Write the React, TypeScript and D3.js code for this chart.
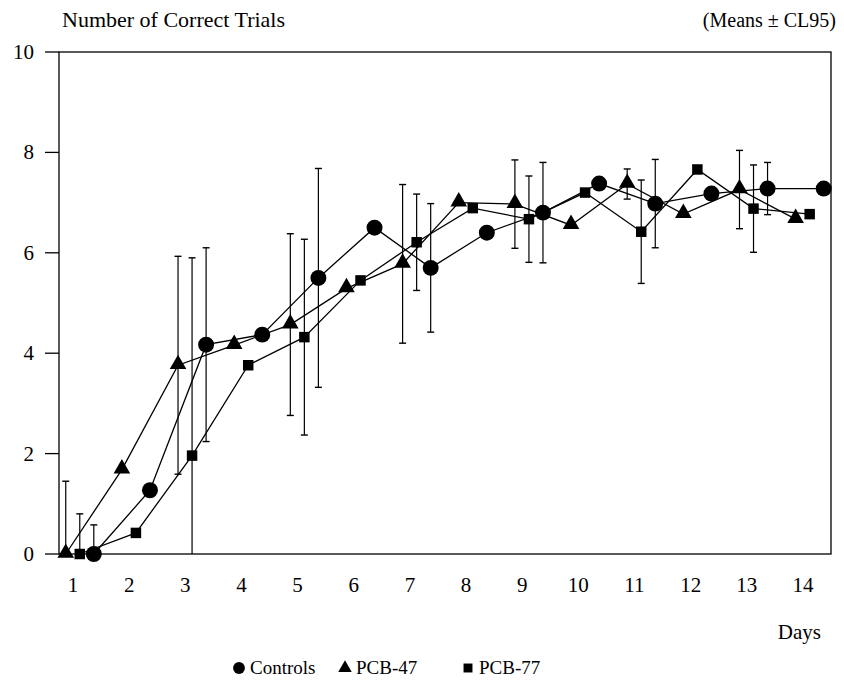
import React, { useEffect, useRef } from 'react';
import * as d3 from 'd3';

// Days 1..14
const days = [1, 2, 3, 4, 5, 6, 7, 8, 9, 10, 11, 12, 13, 14];

// Means
const controlsMean = [0, 1.27, 4.17, 4.37, 5.5, 6.5, 5.7, 6.4, 6.8, 7.38, 6.98, 7.18, 7.28, 7.28];
const pcb47Mean = [0, 1.68, 3.76, 4.16, 4.57, 5.29, 5.78, 7.0, 6.97, 6.55, 7.37, 6.77, 7.26, 6.67];
const pcb77Mean = [0, 0.42, 1.96, 3.76, 4.32, 5.45, 6.21, 6.89, 6.67, 7.2, 6.42, 7.66, 6.88, 6.77];

// CL95 half widths (null = no bar drawn)
const controlsCI = [0.58, null, 1.93, null, 2.18, null, 1.28, null, 1.0, null, 0.88, null, 0.52, null];
const pcb47CI = [1.45, null, 2.17, null, 1.81, null, 1.58, null, 0.88, null, 0.3, null, 0.78, null];
const pcb77CI = [0.8, null, 3.94, null, 1.95, null, 0.96, null, 0.86, null, 1.03, null, 0.87, null];

const yTicks = [0, 2, 4, 6, 8, 10];

type Shape = 'circle' | 'triangle' | 'square';
interface Series {
  name: string;
  shape: Shape;
  offset: number;
  mean: number[];
  ci: (number | null)[];
}

const series: Series[] = [
  { name: 'PCB-47', shape: 'triangle', offset: -0.13, mean: pcb47Mean, ci: pcb47CI },
  { name: 'PCB-77', shape: 'square', offset: 0.12, mean: pcb77Mean, ci: pcb77CI },
  { name: 'Controls', shape: 'circle', offset: 0.37, mean: controlsMean, ci: controlsCI },
];

const FONT = '"Liberation Serif", "Times New Roman", Times, serif';

const markerPath = (shape: Shape, size: number) => {
  if (shape === 'circle') return d3.symbol(d3.symbolCircle, size)();
  if (shape === 'triangle') return d3.symbol(d3.symbolTriangle, size)();
  return d3.symbol(d3.symbolSquare, size)();
};

const markerSize: Record<Shape, number> = { circle: 200, triangle: 120, square: 110 };

const App: React.FC = () => {
  const svgRef = useRef<SVGSVGElement>(null);

  useEffect(() => {
    if (!svgRef.current) return;
    const svg = d3.select(svgRef.current);
    svg.selectAll('*').remove();

    const left = 59;
    const right = 831;
    const top = 52;
    const bottom = 554;

    const x = d3.scaleLinear().domain([0.75, 14.5]).range([left, right]);
    const y = d3.scaleLinear().domain([0, 10]).range([bottom, top]);

    // Frame
    svg
      .append('rect')
      .attr('x', left)
      .attr('y', top)
      .attr('width', right - left)
      .attr('height', bottom - top)
      .attr('fill', 'none')
      .attr('stroke', '#000')
      .attr('stroke-width', 1.3);

    // Y axis ticks + labels
    const yAxis = svg.append('g');
    yAxis
      .selectAll('line')
      .data(yTicks)
      .enter()
      .append('line')
      .attr('x1', left - 14)
      .attr('x2', left)
      .attr('y1', (d) => y(d))
      .attr('y2', (d) => y(d))
      .attr('stroke', '#000')
      .attr('stroke-width', 1.3);
    yAxis
      .selectAll('text')
      .data(yTicks)
      .enter()
      .append('text')
      .attr('x', 34)
      .attr('y', (d) => y(d) + 7)
      .attr('text-anchor', 'end')
      .attr('font-family', FONT)
      .attr('font-size', 21)
      .text((d) => d);

    // X labels (no tick marks)
    svg
      .append('g')
      .selectAll('text')
      .data(days)
      .enter()
      .append('text')
      .attr('x', (d) => x(d))
      .attr('y', 592)
      .attr('text-anchor', 'middle')
      .attr('font-family', FONT)
      .attr('font-size', 21)
      .text((d) => d);

    svg
      .append('text')
      .attr('x', 821)
      .attr('y', 639)
      .attr('text-anchor', 'end')
      .attr('font-family', FONT)
      .attr('font-size', 21)
      .text('Days');

    svg
      .append('text')
      .attr('x', 62)
      .attr('y', 27)
      .attr('font-family', FONT)
      .attr('font-size', 22)
      .text('Number of Correct Trials');

    svg
      .append('text')
      .attr('x', 836)
      .attr('y', 27)
      .attr('text-anchor', 'end')
      .attr('font-family', FONT)
      .attr('font-size', 20)
      .text('(Means \u00b1 CL95)');

    // Error bars
    series.forEach((s) => {
      const g = svg.append('g');
      days.forEach((d, i) => {
        const ci = s.ci[i];
        if (ci == null) return;
        const cx = x(d + s.offset);
        const hi = s.mean[i] + ci;
        const lo = Math.max(0, s.mean[i] - ci);
        g.append('line')
          .attr('x1', cx)
          .attr('x2', cx)
          .attr('y1', y(hi))
          .attr('y2', y(lo))
          .attr('stroke', '#000')
          .attr('stroke-width', 1.2);
        [hi, lo].forEach((v) => {
          if (v <= 0) return;
          g.append('line')
            .attr('x1', cx - 3.5)
            .attr('x2', cx + 3.5)
            .attr('y1', y(v))
            .attr('y2', y(v))
            .attr('stroke', '#000')
            .attr('stroke-width', 1.4);
        });
      });
    });

    // Lines
    series.forEach((s) => {
      const line = d3
        .line<number>()
        .x((_, i) => x(days[i] + s.offset))
        .y((v) => y(v));
      svg
        .append('path')
        .datum(s.mean)
        .attr('fill', 'none')
        .attr('stroke', '#000')
        .attr('stroke-width', 1.3)
        .attr('d', line);
    });

    // Markers
    series.forEach((s) => {
      svg
        .append('g')
        .selectAll('path')
        .data(s.mean)
        .enter()
        .append('path')
        .attr('d', markerPath(s.shape, markerSize[s.shape]))
        .attr('transform', (v, i) => `translate(${x(days[i] + s.offset)},${y(v) - (s.shape === 'triangle' ? 1 : 0)})`)
        .attr('fill', '#000');
    });

    // Legend
    const legendItems: { name: string; shape: Shape; xPos: number }[] = [
      { name: 'Controls', shape: 'circle', xPos: 239 },
      { name: 'PCB-47', shape: 'triangle', xPos: 345 },
      { name: 'PCB-77', shape: 'square', xPos: 468 },
    ];
    const legend = svg.append('g');
    legendItems.forEach((it) => {
      legend
        .append('path')
        .attr('d', markerPath(it.shape, it.shape === 'circle' ? 110 : 80))
        .attr('transform', `translate(${it.xPos},${668})`)
        .attr('fill', '#000');
      legend
        .append('text')
        .attr('x', it.xPos + 11)
        .attr('y', 674)
        .attr('font-family', FONT)
        .attr('font-size', 19)
        .text(it.name);
    });
  }, []);

  return (
    <svg
      ref={svgRef}
      width={844}
      height={683}
      style={{ position: 'absolute', left: 0, top: 0, background: '#fff' }}
    />
  );
};

export default App;
